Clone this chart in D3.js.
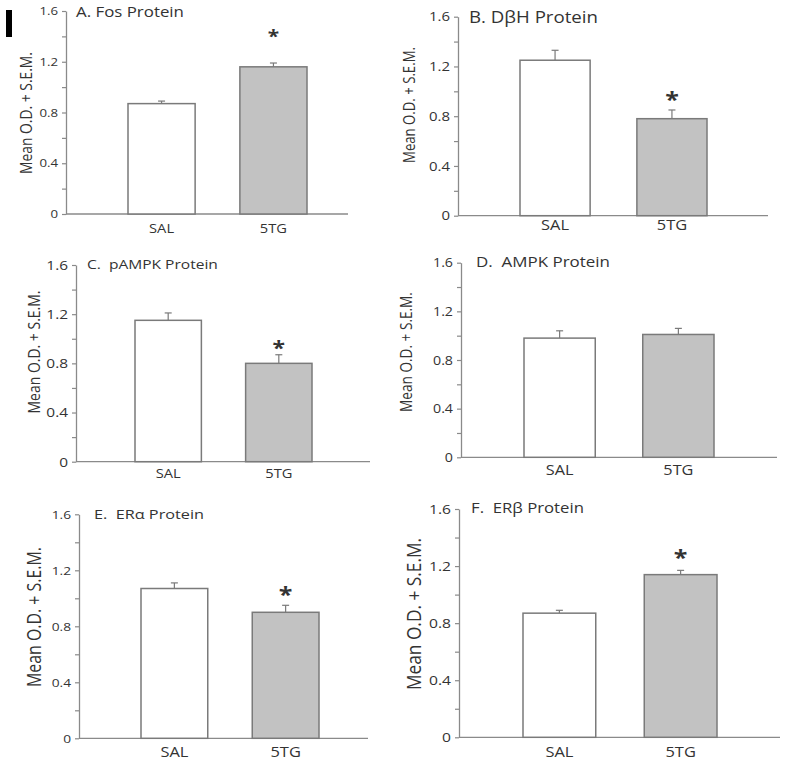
<!DOCTYPE html>
<html>
<head>
<meta charset="utf-8">
<script src="https://cdn.jsdelivr.net/npm/d3@7"></script>
<style>
  body { margin: 0; background: #fff; }
  text { font-family: "Open Sans", sans-serif; fill: #333; }
</style>
</head>
<body>
<div id="chart"></div>
<script>
// values
var panelTitles = ["A. Fos Protein", "B. D\u03b2H Protein", "C.  pAMPK Protein",
                   "D.  AMPK Protein", "E.  ER\u03b1 Protein", "F.  ER\u03b2 Protein"];
var groups = ["SAL", "5TG"];
var salMean = [0.87, 1.25, 1.15, 0.98, 1.07, 0.87];
var salSem  = [0.02, 0.08, 0.06, 0.06, 0.04, 0.02];
var tgMean  = [1.16, 0.78, 0.80, 1.01, 0.90, 1.14];
var tgSem   = [0.03, 0.07, 0.07, 0.05, 0.05, 0.03];
var significant = [true, true, true, false, true, true];
var majorTicks = [0, 0.4, 0.8, 1.2, 1.6];
var tickLabels = ["0", "0.4", "0.8", "1.2", "1.6"];
var minorTicks = [0.2, 0.6, 1.0, 1.4];
var yLabel = "Mean O.D. + S.E.M.";

// the source figure is stretched sideways, so every text gets the same stretch
var sx = 1.2;
var axisColor = "#8a8a8a";
var barStroke = "#7a7a7a";
var fills = ["#ffffff", "#c2c2c2"];

// where each panel sits on the page
var layout = [
    {ax: 66,  top: 11,    bot: 214,   end: 348, band: [128, 307], tx: 76,  ty: 17.3, tw: 108, lx: 26,  ly: 113, lw: 122, tickW: 18.6, xw: 25,   xb: 233,   gap: 30, starW: 10},
    {ax: 458, top: 16.7,  bot: 215.7, end: 768, band: [520, 707], tx: 469, ty: 23.3, tw: 129, lx: 409, ly: 105, lw: 116, tickW: 21,   xw: 28,   xb: 230,   gap: 15, starW: 12},
    {ax: 76,  top: 265,   bot: 461.7, end: 370, band: [135, 312], tx: 87,  ty: 269,  tw: 131, lx: 34,  ly: 352, lw: 123, tickW: 21.7, xw: 25,   xb: 478,   gap: 11, starW: 11},
    {ax: 461, top: 262.7, bot: 457.3, end: 777, band: [524, 714], tx: 476, ty: 266.7, tw: 134, lx: 406, ly: 352, lw: 120, tickW: 20,  xw: 27.7, xb: 475,   gap: 12, starW: 11},
    {ax: 79,  top: 514.3, bot: 738.3, end: 368, band: [141, 319], tx: 94,  ty: 519,  tw: 110, lx: 34,  ly: 617, lw: 140, tickW: 19.3, xw: 28,   xb: 757,   gap: 15, starW: 12},
    {ax: 459, top: 509,   bot: 737.3, end: 780, band: [523, 717], tx: 471, ty: 513,  tw: 113, lx: 414, ly: 614, lw: 152, tickW: 22,   xw: 28,   xb: 757,   gap: 17, starW: 12}
];

var svg = d3.select("#chart").append("svg")
    .attr("width", 787)
    .attr("height", 764);

// size a text so its stretched width matches the picture
function fitText(sel, width) {
    sel.style("font-size", "20px");
    var len = sel.node().getComputedTextLength();
    sel.style("font-size", (20 * width / (len * sx)) + "px");
}

// stray black mark at the top left of the figure
svg.append("rect")
    .attr("x", 6).attr("y", 10)
    .attr("width", 6).attr("height", 27)
    .attr("fill", "#000");

function drawPanel(i) {
    var L = layout[i];
    var g = svg.append("g");

    var y = d3.scaleLinear().domain([0, 1.6]).range([L.bot, L.top]);
    var x = d3.scaleBand().domain(groups).range(L.band).paddingInner(0.4).paddingOuter(0);

    var rows = [
        {group: groups[0], mean: salMean[i], sem: salSem[i], fill: fills[0]},
        {group: groups[1], mean: tgMean[i], sem: tgSem[i], fill: fills[1]}
    ];

    // y axis with minor ticks
    var yAxis = g.append("g")
        .attr("transform", "translate(" + L.ax + ",0)")
        .call(d3.axisLeft(y)
            .tickValues(majorTicks.concat(minorTicks))
            .tickSize(4)
            .tickSizeOuter(0)
            .tickFormat(function(d) {
                var k = majorTicks.indexOf(d);
                return k < 0 ? "" : tickLabels[k];
            }));
    yAxis.select(".domain").attr("stroke", axisColor).attr("stroke-width", 1.3);
    yAxis.selectAll(".tick line").attr("stroke", axisColor).attr("stroke-width", 1.2);
    yAxis.selectAll(".tick text").each(function() {
        var t = d3.select(this);
        t.attr("x", 0).attr("dy", "0.34em")
         .attr("fill", "#333")
         .attr("font-family", null);
        fitText(t.text("1.6"), L.tickW);
    });
    yAxis.selectAll(".tick text")
        .text(function(d) { var k = majorTicks.indexOf(d); return k < 0 ? "" : tickLabels[k]; })
        .attr("transform", "translate(-8,0) scale(" + sx + ",1)");

    // x axis baseline
    g.append("line")
        .attr("x1", L.ax).attr("x2", L.end)
        .attr("y1", y(0)).attr("y2", y(0))
        .attr("stroke", axisColor).attr("stroke-width", 1.3);

    // error bars
    var err = g.selectAll(".err").data(rows).enter().append("g").attr("class", "err");
    err.append("line")
        .attr("x1", function(d) { return x(d.group) + x.bandwidth() / 2; })
        .attr("x2", function(d) { return x(d.group) + x.bandwidth() / 2; })
        .attr("y1", function(d) { return y(d.mean); })
        .attr("y2", function(d) { return y(d.mean + d.sem); })
        .attr("stroke", barStroke).attr("stroke-width", 1.2);
    err.append("line")
        .attr("x1", function(d) { return x(d.group) + x.bandwidth() / 2 - 3.5; })
        .attr("x2", function(d) { return x(d.group) + x.bandwidth() / 2 + 3.5; })
        .attr("y1", function(d) { return y(d.mean + d.sem); })
        .attr("y2", function(d) { return y(d.mean + d.sem); })
        .attr("stroke", barStroke).attr("stroke-width", 1.2);

    // bars
    g.selectAll(".bar").data(rows).enter().append("rect")
        .attr("class", "bar")
        .attr("x", function(d) { return x(d.group); })
        .attr("y", function(d) { return y(d.mean); })
        .attr("width", x.bandwidth())
        .attr("height", function(d) { return y(0) - y(d.mean); })
        .attr("fill", function(d) { return d.fill; })
        .attr("stroke", barStroke)
        .attr("stroke-width", 1.5);

    // category labels
    g.selectAll(".xlab").data(rows).enter().append("text")
        .attr("class", "xlab")
        .attr("text-anchor", "middle")
        .text(function(d) { return d.group; })
        .each(function() { fitText(d3.select(this).text("SAL"), L.xw); })
        .text(function(d) { return d.group; })
        .attr("transform", function(d) {
            return "translate(" + (x(d.group) + x.bandwidth() / 2) + "," + L.xb + ") scale(" + sx + ",1)";
        });

    // title
    var title = g.append("text")
        .style("white-space", "pre")
        .text(panelTitles[i])
        .attr("transform", "translate(" + L.tx + "," + L.ty + ") scale(" + sx + ",1)");
    fitText(title, L.tw);

    // y label
    var lab = g.append("text")
        .attr("text-anchor", "middle")
        .attr("dy", "0.35em")
        .text(yLabel)
        .attr("transform", "translate(" + L.lx + "," + L.ly + ") scale(" + sx + ",1) rotate(-90)");
    lab.style("font-size", "20px");
    var len = lab.node().getComputedTextLength();
    lab.style("font-size", (20 * L.lw / len) + "px");

    // significance mark over the 5TG bar
    if (significant[i]) {
        var fs = L.starW / 0.48 / sx;
        g.append("text")
            .attr("text-anchor", "middle")
            .style("font-size", fs + "px")
            .style("font-weight", "bold")
            .attr("fill", "#222")
            .text("*")
            .attr("transform", "translate(" + (x(groups[1]) + x.bandwidth() / 2) + "," +
                (y(tgMean[i] + tgSem[i]) - L.gap + 0.57 * fs) + ") scale(" + sx + ",1)");
    }
}

for (var i = 0; i < panelTitles.length; i++) drawPanel(i);
</script>
</body>
</html>
